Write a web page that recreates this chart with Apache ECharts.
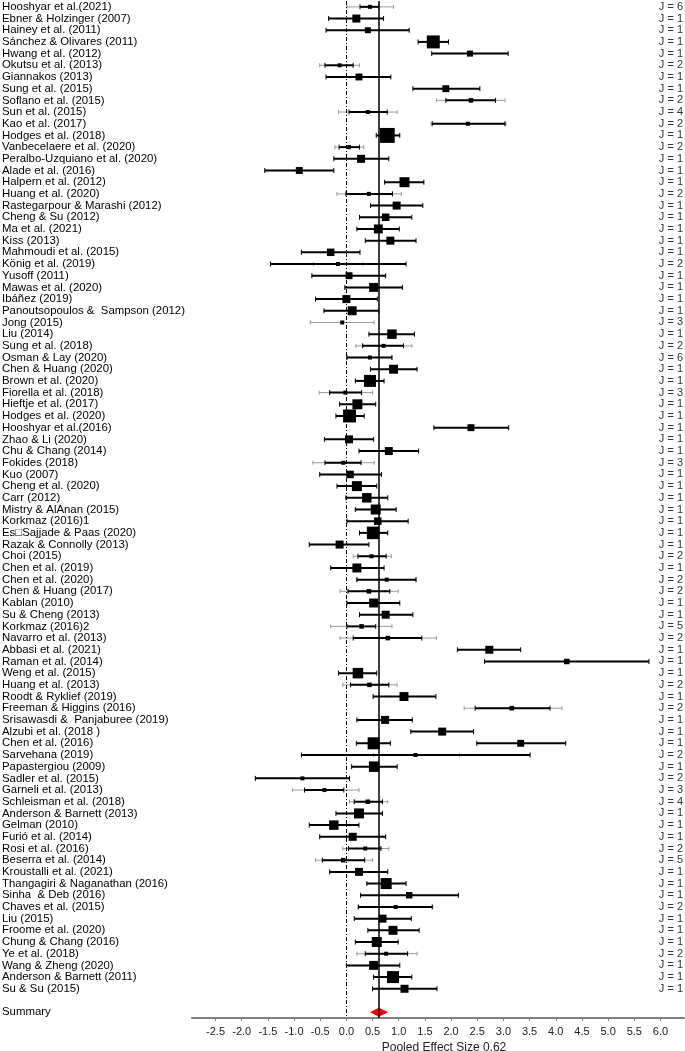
<!DOCTYPE html>
<html><head><meta charset="utf-8">
<script src="https://cdn.jsdelivr.net/npm/echarts@6/dist/echarts.min.js"></script>
<style>html,body{margin:0;padding:0;background:#fff}#c{width:685px;height:1051px}</style>
</head><body><div id="c"></div>
<script>
const studies = [
"Hooshyar et al.(2021)","Ebner & Holzinger (2007)","Hainey et al. (2011)","Sánchez & Olivares (2011)","Hwang et al. (2012)",
"Okutsu et al. (2013)","Giannakos (2013)","Sung et al. (2015)","Soflano et al. (2015)","Sun et al. (2015)",
"Kao et al. (2017)","Hodges et al. (2018)","Vanbecelaere et al. (2020)","Peralbo-Uzquiano et al. (2020)","Alade et al. (2016)",
"Halpern et al. (2012)","Huang et al. (2020)","Rastegarpour & Marashi (2012)","Cheng & Su (2012)","Ma et al. (2021)",
"Kiss (2013)","Mahmoudi et al. (2015)","König et al. (2019)","Yusoff (2011)","Mawas et al. (2020)",
"Ibáñez (2019)","Panoutsopoulos &  Sampson (2012)","Jong (2015)","Liu (2014)","Sung et al. (2018)",
"Osman & Lay (2020)","Chen & Huang (2020)","Brown et al. (2020)","Fiorella et al. (2018)","Hieftje et al. (2017)",
"Hodges et al. (2020)","Hooshyar et al.(2016)","Zhao & Li (2020)","Chu & Chang (2014)","Fokides (2018)",
"Kuo (2007)","Cheng et al. (2020)","Carr (2012)","Mistry & AlAnan (2015)","Korkmaz (2016)1",
"Es\u25A1Sajjade & Paas (2020)","Razak & Connolly (2013)","Choi (2015)","Chen et al. (2019)","Chen et al. (2020)",
"Chen & Huang (2017)","Kablan (2010)","Su & Cheng (2013)","Korkmaz (2016)2","Navarro et al. (2013)",
"Abbasi et al. (2021)","Raman et al. (2014)","Weng et al. (2015)","Huang et al. (2013)","Roodt & Ryklief (2019)",
"Freeman & Higgins (2016)","Srisawasdi &  Panjaburee (2019)","Alzubi et al. (2018 )","Chen et al. (2016)","Sarvehana (2019)",
"Papastergiou (2009)","Sadler et al. (2015)","Garneli et al. (2013)","Schleisman et al. (2018)","Anderson & Barnett (2013)",
"Gelman (2010)","Furió et al. (2014)","Rosi et al. (2016)","Beserra et al. (2014)","Kroustalli et al. (2021)",
"Thangagiri & Naganathan (2016)","Sinha  & Deb (2016)","Chaves et al. (2015)","Liu (2015)","Froome et al. (2020)",
"Chung & Chang (2016)","Ye et al. (2018)","Wang & Zheng (2020)","Anderson & Barnett (2011)","Su & Su (2015)"
];
const jCounts = [
6,1,1,1,1, 2,1,1,2,4, 2,1,2,1,1, 1,2,1,1,1,
1,1,2,1,1, 1,1,3,1,2, 6,1,1,3,1, 1,1,1,1,3,
1,1,1,1,1, 1,1,2,1,2, 2,1,1,5,2, 1,1,1,2,1,
2,1,1,1,2, 1,2,3,4,1, 1,1,2,5,1, 1,1,2,1,1,
1,2,1,1,1
];
const estimates = [
0.45,0.19,0.41,1.66,2.36, -0.13,0.24,1.90,2.38,0.41, 2.32,0.78,0.05,0.28,-0.90, 1.11,0.43,0.96,0.75,0.61,
0.84,-0.30,-0.16,0.05,0.52, 0.00,0.11,-0.08,0.87,0.71, 0.45,0.90,0.45,-0.02,0.21, 0.06,2.38,0.05,0.81,-0.06,
0.07,0.20,0.39,0.56,0.60, 0.51,-0.13,0.48,0.20,0.77, 0.43,0.52,0.75,0.29,0.79, 2.73,4.21,0.22,0.44,1.10,
3.16,0.74,1.83,0.52,1.32, 0.53,-0.84,-0.42,0.41,0.24, -0.24,0.12,0.36,-0.06,0.24, 0.76,1.20,0.94,0.69,0.89,
0.58,0.76,0.52,0.89,1.11
];
const ciLow = [
0.26,-0.34,-0.39,1.37,1.63, -0.41,-0.39,1.27,1.90,0.05, 1.64,0.57,-0.14,-0.24,-1.56, 0.73,-0.01,0.46,0.25,0.20,
0.36,-0.86,-1.45,-0.66,-0.03, -0.59,-0.43,null,0.43,0.31, 0.01,0.46,0.17,-0.32,-0.13, -0.20,1.67,-0.42,0.24,-0.41,
-0.51,-0.18,-0.01,0.17,0.01, 0.25,-0.71,0.22,-0.30,0.20, 0.03,0.01,0.25,0.01,0.13, 2.12,2.64,-0.15,0.08,0.51,
2.46,0.20,1.23,0.19,-0.86, 0.10,-1.74,-0.80,0.15,-0.20, -0.71,-0.51,0.04,-0.46,-0.32, 0.39,0.27,0.23,0.15,0.41,
0.17,0.36,0.00,0.52,0.50
];
const ciHigh = [
0.62,0.71,1.20,1.95,3.09, 0.13,0.85,2.55,2.85,0.78, 3.03,1.02,0.25,0.81,-0.24, 1.48,0.88,1.46,1.25,1.01,
1.33,0.26,1.14,0.75,1.07, 0.59,0.62,null,1.30,1.09, 0.87,1.35,0.72,0.29,0.56, 0.34,3.10,0.52,1.38,0.28,
0.67,0.58,0.79,0.95,1.18, 0.79,0.43,0.76,0.72,1.33, 0.83,1.02,1.27,0.56,1.44, 3.33,5.78,0.58,0.81,1.71,
3.89,1.26,2.43,0.84,3.51, 0.97,0.06,-0.05,0.69,0.69, 0.24,0.75,0.66,0.35,0.79, 1.14,2.14,1.64,1.24,1.39,
0.99,1.17,1.02,1.25,1.73
];
const outerLow = [
0.01,null,null,null,null, -0.51,null,null,1.72,-0.15, 1.62,null,-0.22,null,null, null,-0.18,null,null,null,
null,null,-0.63,null,null, null,null,-0.69,null,0.18, 0.01,null,null,-0.52,null, null,null,null,null,-0.64,
null,null,null,null,null, null,null,0.13,null,0.20, -0.12,null,null,-0.30,-0.12, null,null,null,-0.07,null,
2.25,null,null,null,0.52, null,-1.74,-1.03,0.06,null, null,null,-0.07,-0.59,null, null,null,0.22,null,null,
null,0.20,null,null,null
];
const outerHigh = [
0.90,null,null,null,null, 0.25,null,null,3.03,0.97, 3.05,null,0.33,null,null, null,1.05,null,null,null,
null,null,0.32,null,null, null,null,0.53,null,1.25, 0.87,null,null,0.50,null, null,null,null,null,0.53,
null,null,null,null,null, null,null,0.86,null,1.33, 0.99,null,null,0.87,1.72, null,null,null,0.97,null,
4.12,null,null,null,2.16, null,0.06,0.24,0.79,null, null,null,0.81,0.50,null, null,null,1.65,null,null,
null,1.35,null,null,null
];
const weights = [
1,4,2.25,10.5,2.25, 1,3,3,1.3,1, 1,14,1,4,3, 6.25,1,4,3.5,5,
4,3.5,1,3,5, 4,5,1,5.6,1, 1,5,9,1,6.25, 10.5,3,4,4,1,
3.5,6.25,5.6,6.25,3.5, 9.8,4,1,5,1, 1.3,5,4,1.3,1.3, 4,1.9,6.9,1.3,5,
1.3,4,4,9,1, 6.9,1,1,1.3,6.25, 5.6,4,1,1.3,4, 7.6,2.6,1,4,5,
6.25,1,5,9,4
];
// second estimate drawn on the Chen et al. (2016) row
const extraStudy = ["Chen et al. (2016)"];
const extraEstimate = [3.33];
const extraLow = [2.49];
const extraHigh = [4.19];
const extraWeight = [3];
const pooled = 0.62, pooledLow = 0.45, pooledHigh = 0.80;
const xTicks = [-2.5,-2.0,-1.5,-1.0,-0.5,0.0,0.5,1.0,1.5,2.0,2.5,3.0,3.5,4.0,4.5,5.0,5.5,6.0];

const categories = studies.concat(['', 'Summary']);
const marks = studies.map((s, i) => ({row: i, est: estimates[i], lo: ciLow[i], hi: ciHigh[i], olo: outerLow[i], ohi: outerHigh[i], w: weights[i]}));
extraStudy.forEach((s, k) => marks.push({row: studies.indexOf(s), est: extraEstimate[k], lo: extraLow[k], hi: extraHigh[k], olo: null, ohi: null, w: extraWeight[k]}));

function interval(api, lo, hi, y, color, width, cap) {
  const a = api.coord([lo, y]), b = api.coord([hi, y]);
  return [
    {type: 'line', shape: {x1: a[0], y1: a[1], x2: b[0], y2: b[1]}, style: {stroke: color, lineWidth: width}},
    {type: 'line', shape: {x1: a[0], y1: a[1] - cap, x2: a[0], y2: a[1] + cap}, style: {stroke: color, lineWidth: 1}},
    {type: 'line', shape: {x1: b[0], y1: b[1] - cap, x2: b[0], y2: b[1] + cap}, style: {stroke: color, lineWidth: 1}}
  ];
}

const chart = echarts.init(document.getElementById('c'), null, {renderer: 'canvas'});
const font = 'Liberation Sans, Arial, sans-serif';
chart.setOption({
  animation: false,
  backgroundColor: '#fff',
  grid: {left: 192, right: 1, top: 1, height: 1017, containLabel: false, outerBoundsMode: 'none'},
  xAxis: {
    type: 'value', min: -2.95, max: 6.45,
    axisLine: {show: true, onZero: false, lineStyle: {color: '#808080', width: 2}},
    axisTick: {show: true, customValues: xTicks, length: 3, lineStyle: {color: '#808080'}},
    axisLabel: {customValues: xTicks, formatter: v => v.toFixed(1), color: '#222', fontSize: 11, fontFamily: font, margin: 8},
    splitLine: {show: false},
    name: 'Pooled Effect Size 0.62', nameLocation: 'middle', nameGap: 22,
    nameTextStyle: {fontSize: 12, color: '#222', fontFamily: font, padding: [0, 0, 0, 12]}
  },
  yAxis: [
    {type: 'category', data: categories, inverse: true,
     axisLine: {show: false}, axisTick: {show: false}, splitLine: {show: false},
     axisLabel: {interval: 0, align: 'left', margin: 190, fontSize: 11.4, color: '#000', fontFamily: font}},
    {type: 'category', data: categories, inverse: true, position: 'right',
     axisLine: {show: false}, axisTick: {show: false}, splitLine: {show: false},
     axisLabel: {interval: 0, align: 'right', margin: -1, fontSize: 11, color: '#333', fontFamily: font,
       formatter: (v, i) => i < jCounts.length ? 'J = ' + jCounts[i] : ''}}
  ],
  series: [
    {
      type: 'custom', xAxisIndex: 0, yAxisIndex: 0,
      data: marks.map(m => [m.row, m.est]),
      encode: {x: 1, y: 0},
      renderItem: function (params, api) {
        const m = marks[params.dataIndex];
        const y = api.value(0);
        const children = [];
        if (m.olo != null) children.push(...interval(api, m.olo, m.ohi, y, '#9a9a9a', 1, 2));
        if (m.lo != null) children.push(...interval(api, m.lo, m.hi, y, '#000', 2, 2.5));
        const c = api.coord([m.est, y]);
        const s = 4 * Math.sqrt(m.w);
        children.push({type: 'rect', shape: {x: c[0] - s / 2, y: c[1] - s / 2, width: s, height: s}, style: {fill: '#000'}});
        return {type: 'group', children};
      },
      markLine: {
        silent: true, symbol: 'none', label: {show: false},
        data: [
          {xAxis: 0, lineStyle: {color: '#000', width: 1, type: [4, 2, 1, 2]}},
          {xAxis: pooled, lineStyle: {color: '#000', width: 1.5, type: 'solid'}}
        ]
      },
      z: 3
    },
    {
      type: 'custom', xAxisIndex: 0, yAxisIndex: 0,
      data: [[categories.length - 1, pooled]],
      encode: {x: 1, y: 0},
      renderItem: function (params, api) {
        const y = api.value(0);
        const l = api.coord([pooledLow, y]), r = api.coord([pooledHigh, y]), c = api.coord([pooled, y]);
        return {type: 'polygon', shape: {points: [[l[0], l[1]], [c[0], c[1] - 4.5], [r[0], r[1]], [c[0], c[1] + 4.5]]}, style: {fill: '#ff0000'}};
      },
      z: 4
    }
  ]
});
</script></body></html>
